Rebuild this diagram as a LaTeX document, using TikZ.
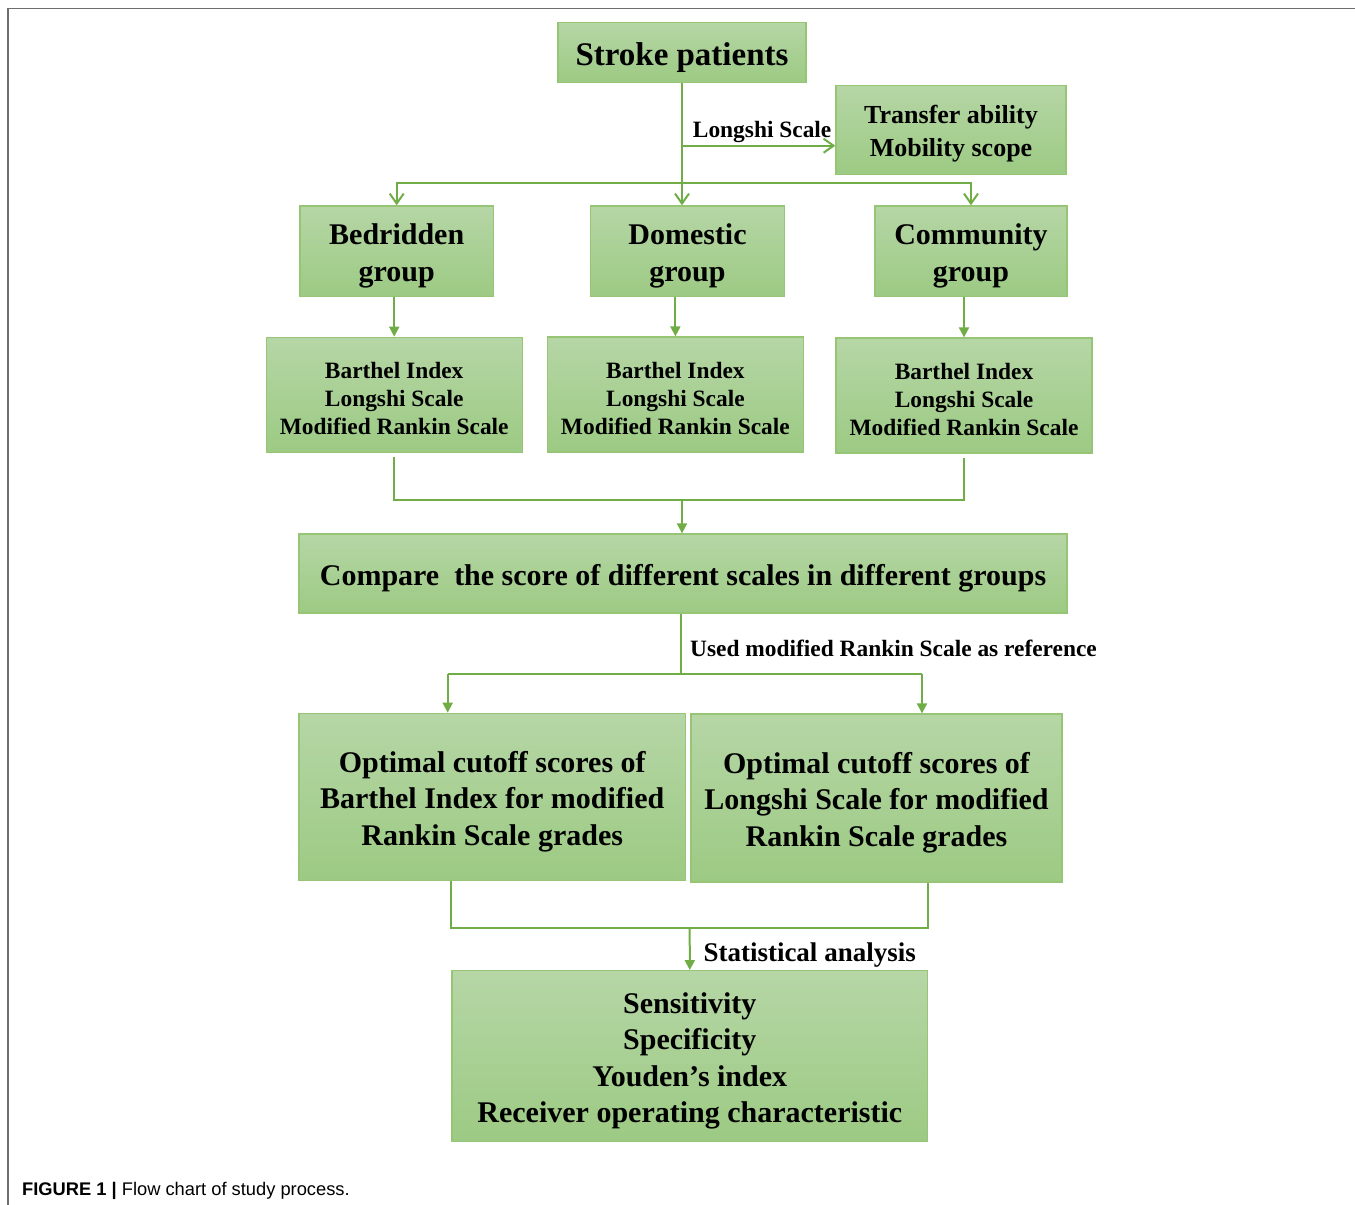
\documentclass[tikz,border=0pt]{standalone}
\usepackage{fontspec}
\setmainfont{Liberation Serif}
\newfontfamily\capfont{Liberation Sans}
\usetikzlibrary{arrows.meta}
\definecolor{boxtop}{RGB}{182,214,166}
\definecolor{boxbot}{RGB}{156,202,131}
\definecolor{boxedge}{RGB}{150,197,118}
\definecolor{flow}{RGB}{112,173,71}
\definecolor{framegray}{RGB}{110,110,110}
% taller first line, so the text sits a little low in its box
\newcommand{\topgap}{\rule{0pt}{1em}}

\begin{document}
\begin{tikzpicture}[x=1pt, y=-1pt,
    box/.style={draw=boxedge, line width=1.3pt, top color=boxtop, bottom color=boxbot,
      inner sep=0pt, align=center, font=\bfseries\fontsize{30}{36.5}\selectfont},
    small/.style={font=\bfseries\fontsize{23.4}{28}\selectfont},
    line/.style={draw=flow, line width=2pt},
    barb/.style={line, -{Straight Barb[length=10pt,width=14pt]}},
    tri/.style={line, -{Triangle[length=10pt,width=10pt]}},
    lbl/.style={anchor=base west, inner sep=0pt, font=\bfseries\fontsize{23.4}{28}\selectfont}]
    \useasboundingbox (0,0) rectangle (1355,1205);

    % Draw page frame
    \draw[framegray, line width=1.5pt] (7,8.5) -- (1355,8.5);
    \draw[framegray, line width=1.5pt] (8,8) -- (8,1205);

    % Top boxes
    \node[box, minimum width=248pt, minimum height=60pt, font=\bfseries\fontsize{33}{40}\selectfont] (stroke) at (682,52.3) {\topgap Stroke patients};
    \node[box, minimum width=230pt, minimum height=89.5pt, font=\bfseries\fontsize{26}{32.7}\selectfont] (transfer) at (951,130) {\topgap Transfer ability\\Mobility scope};

    % Groups
    \foreach \n/\x/\w/\t in {bed/396.7/193.3/Bedridden, dom/687.5/193.6/Domestic, com/971/192/Community}
      \node[box, minimum width=\w pt, minimum height=90.7pt] (\n) at (\x,251.3) {\topgap\t\\group};

    % Scales of each group
    \foreach \n/\x/\y in {scA/394.2/394.8, scB/675.4/394.5, scC/964/395.5}
      \node[box, small, minimum width=256pt, minimum height=115pt] (\n) at (\x,\y) {\topgap Barthel Index\\Longshi Scale\\Modified Rankin Scale};

    \node[box, minimum width=768pt, minimum height=79pt] (compare) at (683,573.5) {\topgap Compare\ \ the score of different scales in different groups};

    \node[box, minimum width=386.5pt, minimum height=167.4pt] (cutBI) at (492.2,797) {\topgap Optimal cutoff scores of\\Barthel Index for modified\\Rankin Scale grades};
    \node[box, minimum width=371pt, minimum height=168pt] (cutLS) at (876.5,798) {\topgap Optimal cutoff scores of\\Longshi Scale for modified\\Rankin Scale grades};

    \node[box, minimum width=475.7pt, minimum height=171pt] (stats) at (689.8,1056.2) {\topgap Sensitivity\\Specificity\\Youden’s index\\Receiver operating characteristic};

    % Labels on the lines
    \node[lbl] (lsLabel) at (692.7,137.5) {Longshi Scale};
    \node[lbl] (refLabel) at (690,656.5) {Used modified Rankin Scale as reference};
    \node[lbl, font=\bfseries\fontsize{27}{32}\selectfont] (statLabel) at (703.3,961) {Statistical analysis};

    % Draw trunk and split
    \coordinate (tap) at (682,145.7);
    \coordinate (split) at (682,182.5);
    \draw[line] (stroke.south) -- (split);
    \draw[barb] (tap) -- (tap -| transfer.west);
    \draw[barb] (split) -| (bed.north);
    \draw[barb] (split) -| (com.north);
    \draw[barb] (split) -- (split |- dom.north);

    \foreach \g/\s in {bed/scA, dom/scB, com/scC}
      \draw[tri] (\g.south -| \s.north) -- (\s.north);

    % Merge into comparison
    \coordinate (merge) at (682,500.3);
    \draw[line] ([yshift=-4pt]scA.south) |- (merge) -| ([yshift=-4pt]scC.south);
    \draw[tri] (merge) -- (merge |- compare.north);

    % Fork to the cutoff boxes
    \coordinate (fork) at (681,674.3);
    \coordinate (forkL) at (447.7,674.3);
    \coordinate (forkR) at (922,674.3);
    \draw[line] (compare.south -| fork) -- (fork);
    \draw[line] (forkL) -- (forkR);
    \draw[tri] (forkL) -- (forkL |- cutBI.north);
    \draw[tri] (forkR) -- (forkR |- cutLS.north);

    % Join into statistics
    \coordinate (join) at (689.7,927.7);
    \draw[line] (cutBI.south -| stats.west) |- (stats.east |- join) -- (cutLS.south -| stats.east);
    \draw[tri] (join) -- (stats.north);

    % Caption
    \node[anchor=base west, inner sep=0pt, font=\capfont\fontsize{18.3}{22}\selectfont] (caption) at (22,1195) {\textbf{FIGURE 1 |} Flow chart of study process.};
\end{tikzpicture}
\end{document}
